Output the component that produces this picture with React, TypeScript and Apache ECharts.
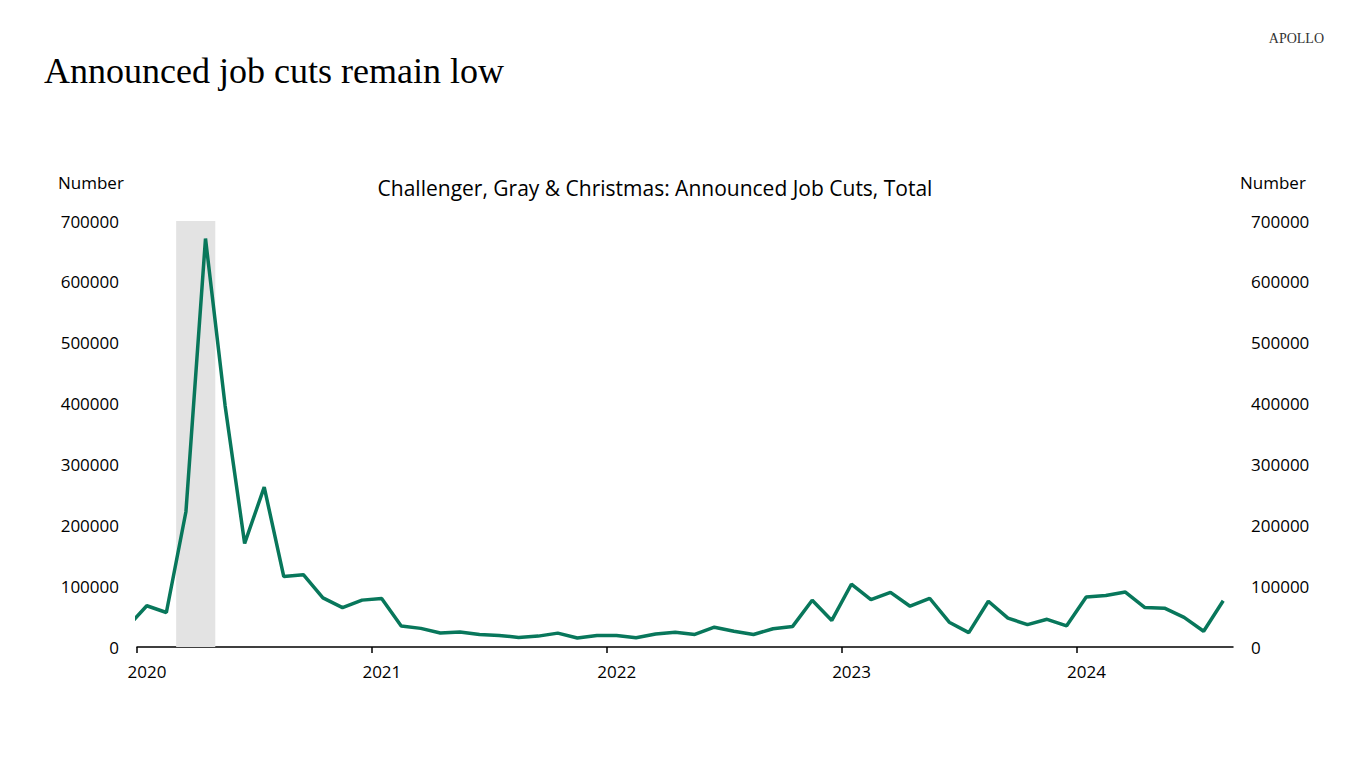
import React, { useEffect, useRef } from "react";
import * as echarts from "echarts";

const months: string[] = [
  "2019-12",
  "2020-01", "2020-02", "2020-03", "2020-04", "2020-05", "2020-06", "2020-07", "2020-08", "2020-09", "2020-10", "2020-11", "2020-12",
  "2021-01", "2021-02", "2021-03", "2021-04", "2021-05", "2021-06", "2021-07", "2021-08", "2021-09", "2021-10", "2021-11", "2021-12",
  "2022-01", "2022-02", "2022-03", "2022-04", "2022-05", "2022-06", "2022-07", "2022-08", "2022-09", "2022-10", "2022-11", "2022-12",
  "2023-01", "2023-02", "2023-03", "2023-04", "2023-05", "2023-06", "2023-07", "2023-08", "2023-09", "2023-10", "2023-11", "2023-12",
  "2024-01", "2024-02", "2024-03", "2024-04", "2024-05", "2024-06", "2024-07", "2024-08",
];

const jobCuts: number[] = [
  32843,
  67735, 56660, 222288, 671129, 397016, 170219, 262649, 115762, 118804, 80666, 64797, 77030,
  79552, 34531, 30603, 22913, 24586, 20476, 18942, 15723, 17895, 22822, 14875, 19052,
  19064, 15245, 21387, 24286, 20712, 32517, 25810, 20485, 29989, 33843, 76835, 43651,
  103180, 77770, 89703, 66995, 80089, 40709, 23697, 75151, 47457, 36836, 45510, 34817,
  82307, 84638, 90309, 64789, 63816, 48786, 25885, 75891,
];

const recessionMonths: string[] = ["2020-03", "2020-04"];

const xStart = "2020-01";
const xEnd = "2024-09";
const xTickYears: number[] = [2020, 2021, 2022, 2023, 2024];
const yTicks: number[] = [0, 100000, 200000, 300000, 400000, 500000, 600000, 700000];

const mainTitle = "Announced job cuts remain low";
const chartTitle = "Challenger, Gray & Christmas: Announced Job Cuts, Total";
const axisName = "Number";
const brand = "APOLLO";

// month string -> fractional year (mid-month for data points)
const monthStart = (m: string) => {
  const [y, mo] = m.split("-").map(Number);
  return y + (mo - 1) / 12;
};
const monthMid = (m: string) => monthStart(m) + 0.5 / 12;

const SANS = "'Open Sans', 'Noto Sans', sans-serif";
const SERIF = "'Liberation Serif', 'DejaVu Serif', serif";

export default function App() {
  const ref = useRef<HTMLDivElement>(null);

  useEffect(() => {
    if (!ref.current) return;
    const chart = echarts.init(ref.current, undefined, { renderer: "svg" });
    const lineColor = "#08775b";
    const yMax = yTicks[yTicks.length - 1];
    const yInterval = yTicks[1] - yTicks[0];

    const yAxisCommon = {
      type: "value" as const,
      min: yTicks[0],
      max: yMax,
      interval: yInterval,
      splitLine: { show: false },
      axisLine: { show: false },
      axisTick: { show: false },
      axisLabel: {
        color: "#000",
        fontSize: 17,
        fontFamily: SANS,
        margin: 18,
        formatter: (v: number) => String(v),
      },
    };

    chart.setOption({
      animation: false,
      backgroundColor: "#fff",
      graphic: [
        {
          type: "text",
          left: 44,
          top: 53,
          style: { text: mainTitle, fill: "#000", font: `36px ${SERIF}` },
        },
        {
          type: "text",
          right: 42,
          top: 31,
          style: { text: brand, fill: "#333", font: `14px ${SERIF}` },
        },
        {
          type: "text",
          left: 58,
          top: 174,
          style: { text: axisName, fill: "#000", font: `17px ${SANS}` },
        },
        {
          type: "text",
          left: 1240,
          top: 174,
          style: { text: axisName, fill: "#000", font: `17px ${SANS}` },
        },
        {
          type: "text",
          x: 655,
          y: 188,
          style: {
            text: chartTitle,
            fill: "#000",
            font: `21px ${SANS}`,
            align: "center",
            verticalAlign: "middle",
          },
        },
      ],
      grid: { left: 137, right: 133, top: 221, bottom: 121, containLabel: false },
      xAxis: {
        type: "value",
        min: monthStart(xStart),
        max: monthStart(xEnd),
        splitLine: { show: false },
        axisLine: { show: true, lineStyle: { color: "#000", width: 1.5 } },
        axisTick: {
          show: true,
          length: 6,
          customValues: xTickYears,
          lineStyle: { color: "#000", width: 1.5 },
        },
        axisLabel: {
          color: "#000",
          fontSize: 17,
          fontFamily: SANS,
          margin: 16,
          padding: [0, 0, 0, 20],
          customValues: xTickYears,
          formatter: (v: number) => String(Math.round(v)),
        },
      },
      yAxis: [
        { ...yAxisCommon, position: "left" },
        { ...yAxisCommon, position: "right" },
      ],
      series: [
        {
          type: "line",
          yAxisIndex: 0,
          data: months.map((m, i) => [monthMid(m), jobCuts[i]]),
          showSymbol: false,
          symbol: "none",
          lineStyle: { color: lineColor, width: 3.5 },
          itemStyle: { color: lineColor },
          clip: true,
          z: 3,
          markArea: {
            silent: true,
            itemStyle: { color: "#e3e3e3" },
            data: [
              [
                { xAxis: monthStart(recessionMonths[0]) },
                { xAxis: monthStart(recessionMonths[recessionMonths.length - 1]) + 1 / 12 },
              ],
            ],
          },
        },
      ],
    });

    return () => chart.dispose();
  }, []);

  return (
    <div
      ref={ref}
      style={{ position: "fixed", left: 0, top: 0, width: 1366, height: 768, background: "#fff" }}
    />
  );
}
